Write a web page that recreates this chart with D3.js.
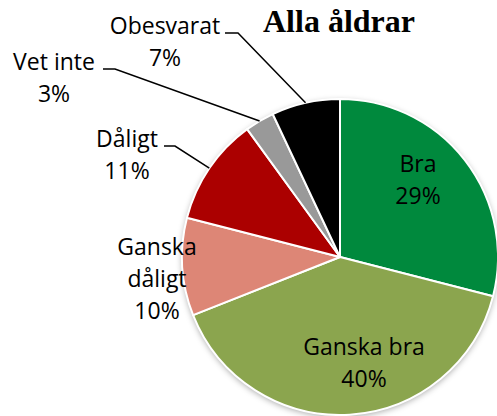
<!DOCTYPE html>
<html><head><meta charset="utf-8">
<script src="https://cdn.jsdelivr.net/npm/d3@7"></script>
<style>html,body{margin:0;padding:0;background:#fff;overflow:hidden}</style>
</head><body>
<svg id="chart" width="497" height="416"></svg>
<script>
const title = "Alla åldrar";
const categories = ["Bra", "Ganska bra", "Ganska dåligt", "Dåligt", "Vet inte", "Obesvarat"];
const values = [29, 40, 10, 11, 3, 7];
const colors = ["#00893D", "#8BA54E", "#DD8676", "#AB0000", "#999999", "#000000"];

// layout (label text block positions, leader elbows)
const cx = 340, cy = 257, R = 158;
const labelLayout = {
  "Bra":           {x: 418, y: 172, lines: ["Bra"]},
  "Ganska bra":    {x: 364, y: 355, lines: ["Ganska bra"]},
  "Ganska dåligt": {x: 157, y: 255, lines: ["Ganska", "dåligt"]},
  "Dåligt":        {x: 127, y: 147, lines: ["Dåligt"], elbow: [164, 175]},
  "Vet inte":      {x: 54,  y: 70,  lines: ["Vet inte"], elbow: [103, 115]},
  "Obesvarat":     {x: 165, y: 34,  lines: ["Obesvarat"], elbow: [225, 238]}
};
const lineH = 32;

const svg = d3.select("#chart");
const defs = svg.append("defs");
const f = defs.append("filter").attr("id","sh").attr("x","-20%").attr("y","-20%").attr("width","140%").attr("height","140%");
f.append("feDropShadow").attr("dx",0).attr("dy",2).attr("stdDeviation",3).attr("flood-color","#000").attr("flood-opacity",0.35);

const data = categories.map((c,i)=>({cat:c, value:values[i], color:colors[i]}));
const pie = d3.pie().value(d=>d.value).sort(null);
const arcs = pie(data);
const arc = d3.arc().innerRadius(0).outerRadius(R);

const g = svg.append("g").attr("transform", `translate(${cx},${cy})`);
g.append("circle").attr("r", R).attr("fill","#fff").attr("filter","url(#sh)");
g.selectAll("path.slice").data(arcs).join("path")
  .attr("class","slice")
  .attr("d", arc)
  .attr("fill", d=>d.data.color)
  .attr("stroke","#fff").attr("stroke-width",2).attr("stroke-linejoin","round");

// leader lines
arcs.forEach(a=>{
  const L = labelLayout[a.data.cat];
  if (!L.elbow) return;
  const mid = (a.startAngle + a.endAngle)/2;
  const ex = cx + R*Math.sin(mid), ey = cy - R*Math.cos(mid);
  const ly = L.y - 1;
  svg.append("polyline")
    .attr("points", `${L.elbow[0]},${ly} ${L.elbow[1]},${ly} ${ex},${ey}`)
    .attr("fill","none").attr("stroke","#000").attr("stroke-width",1.5);
});

// labels
arcs.forEach(a=>{
  const L = labelLayout[a.data.cat];
  const t = svg.append("text")
    .attr("text-anchor","middle")
    .attr("font-family","'Open Sans', 'Noto Sans', sans-serif")
    .attr("font-size", 23)
    .attr("fill","#000");
  const lines = L.lines.concat([a.data.value + "%"]);
  lines.forEach((s,i)=>{
    t.append("tspan").attr("x", L.x).attr("y", L.y + i*lineH).text(s);
  });
});

svg.append("text")
  .attr("x", 339).attr("y", 32)
  .attr("text-anchor","middle")
  .attr("font-family","'Liberation Serif', 'Times New Roman', serif")
  .attr("font-weight","bold")
  .attr("font-size", 32)
  .text(title);
</script>
</body></html>
